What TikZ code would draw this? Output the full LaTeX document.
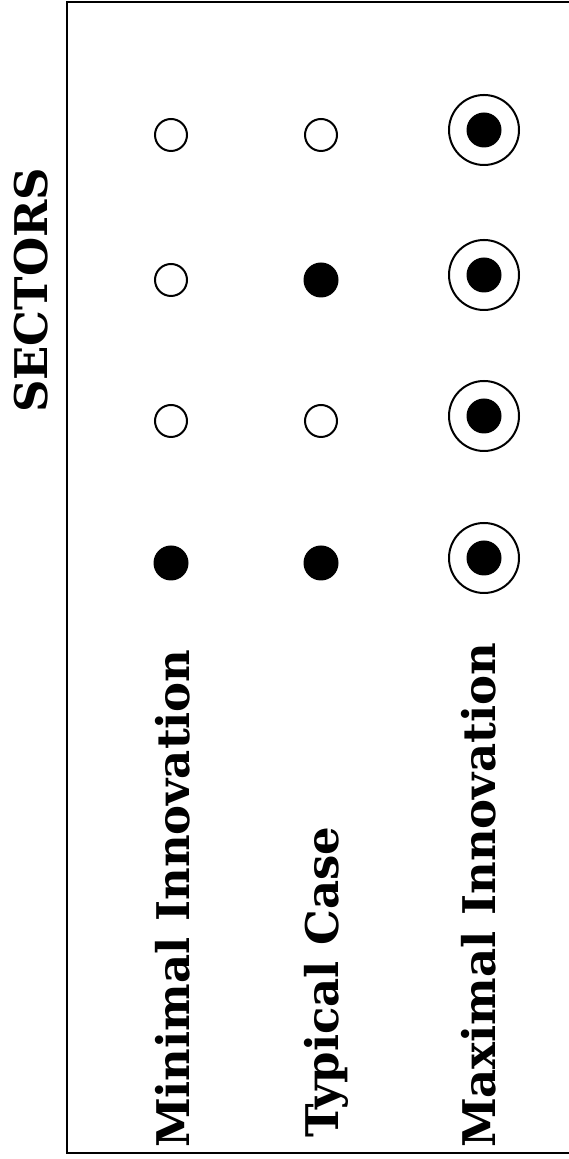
\documentclass[tikz,border=0pt]{standalone}
\usepackage{fontspec}
\setmainfont{DejaVu Serif}
\begin{document}
\begin{tikzpicture}[x=1pt,y=1pt,
  opendot/.style={circle,draw=black,line width=2pt,minimum size=32pt,inner sep=0pt,fill=white},
  soliddot/.style={circle,fill=black,minimum size=35pt,inner sep=0pt},
  ringdot/.style={circle,draw=black,line width=2pt,minimum size=70pt,inner sep=0pt},
  lab/.style={font=\fontsize{45}{54}\selectfont\bfseries,rotate=90,anchor=base west,inner sep=0pt,outer sep=0pt},
  frame/.style={line width=2pt,line cap=rect}]
\useasboundingbox (0,0) rectangle (569,1159);
\clip (0,0) rectangle (569,1159);
% frame
\draw[frame] (585,1157) -- (67,1157) -- (67,6) -- (585,6);
% title
\node[lab] (title) at (47,746) {SECTORS};
% row labels
\node[lab] (lmin) at (189,11) {Minimal Innovation};
\node[lab] (ltyp) at (338,21) {Typical Case};
\node[lab] (lmax) at (495,11) {Maximal Innovation};
% column 1: minimal innovation
\node[opendot] (a1) at (171,1024) {};
\node[opendot] (a2) at (171,879) {};
\node[opendot] (a3) at (171,738) {};
\node[soliddot] (a4) at (171,596) {};
% column 2: typical case
\node[opendot] (b1) at (321,1024) {};
\node[soliddot] (b2) at (321,879) {};
\node[opendot] (b3) at (321,738) {};
\node[soliddot] (b4) at (321,596) {};
% column 3: maximal innovation
\foreach \i/\y in {1/1029,2/884,3/743,4/601}{
  \node[ringdot] (c\i) at (484,\y) {};
  \node[soliddot] (cc\i) at (484,\y) {};
}
\end{tikzpicture}
\end{document}
